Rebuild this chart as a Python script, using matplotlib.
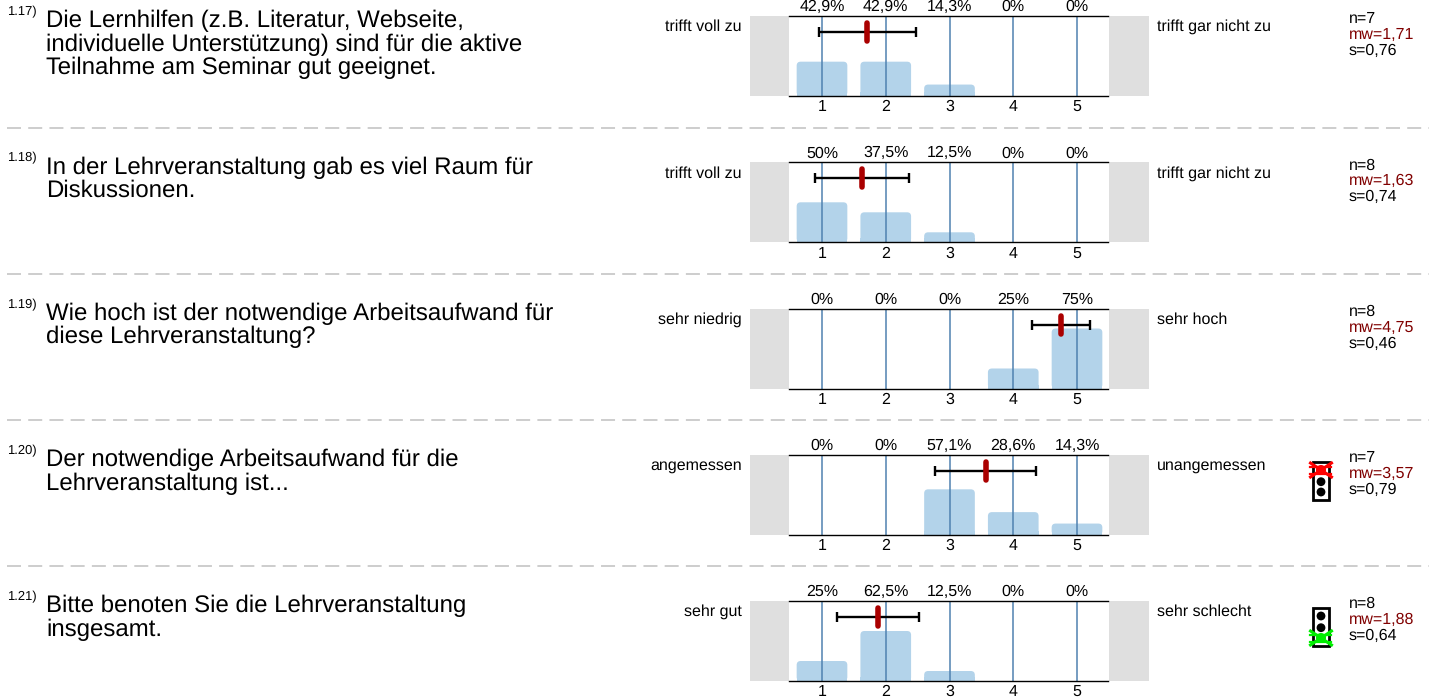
import matplotlib
matplotlib.use("Agg")
import matplotlib.pyplot as plt
from matplotlib.patches import FancyBboxPatch, Rectangle, Circle

plt.rcParams['font.family'] = ['Liberation Sans', 'DejaVu Sans']
plt.rcParams['text.hinting'] = 'no_hinting'
plt.rcParams['text.hinting_factor'] = 1

W, H = 1429, 697

numbers = ["1.17)", "1.18)", "1.19)", "1.20)", "1.21)"]
questions = [
    "Die Lernhilfen (z.B. Literatur, Webseite,\nindividuelle Unterstützung) sind für die aktive\nTeilnahme am Seminar gut geeignet.",
    "In der Lehrveranstaltung gab es viel Raum für\nDiskussionen.",
    "Wie hoch ist der notwendige Arbeitsaufwand für\ndiese Lehrveranstaltung?",
    "Der notwendige Arbeitsaufwand für die\nLehrveranstaltung ist...",
    "Bitte benoten Sie die Lehrveranstaltung\ninsgesamt.",
]
left_labels = ["trifft voll zu", "trifft voll zu", "sehr niedrig", "angemessen", "sehr gut"]
right_labels = ["trifft gar nicht zu", "trifft gar nicht zu", "sehr hoch", "unangemessen", "sehr schlecht"]
categories = [1, 2, 3, 4, 5]
pct_values = [
    [42.9, 42.9, 14.3, 0, 0],
    [50, 37.5, 12.5, 0, 0],
    [0, 0, 0, 25, 75],
    [0, 0, 57.1, 28.6, 14.3],
    [25, 62.5, 12.5, 0, 0],
]
pct_labels = [
    ["42,9%", "42,9%", "14,3%", "0%", "0%"],
    ["50%", "37,5%", "12,5%", "0%", "0%"],
    ["0%", "0%", "0%", "25%", "75%"],
    ["0%", "0%", "57,1%", "28,6%", "14,3%"],
    ["25%", "62,5%", "12,5%", "0%", "0%"],
]
n_values = [7, 8, 8, 7, 8]
means = [1.71, 1.63, 4.75, 3.57, 1.88]
sds = [0.76, 0.74, 0.46, 0.79, 0.64]
lights = [None, None, None, 0, 2]
light_colors = ["#ff0000", "#00ee00"]
mean_labels = ["1,71", "1,63", "4,75", "3,57", "1,88"]
sd_labels = ["0,76", "0,74", "0,46", "0,79", "0,64"]

tops = [16, 162.3, 308.5, 455, 601]
seps = [127.5, 273.5, 420, 566]

BLUE = "#b3d3ea"
LINE = "#4f81b0"
RED = "#aa0000"
GREY = "#dfdfdf"
FS = 11.2

fig = plt.figure(figsize=(W / 100, H / 100), dpi=100)
bg = fig.add_axes([0, 0, 1, 1])
bg.set_xlim(0, W)
bg.set_ylim(H, 0)
bg.axis("off")

for y in seps:
    bg.plot([7, W], [y, y], color="#c9c9c9", lw=1.3, dashes=(7.75, 4.0), solid_capstyle="butt")

UNIT = 63.75
X0 = 822 - UNIT * 1
XL, XR = 789, 1108

for i, top in enumerate(tops):
    bot = top + 80
    bg.add_patch(Rectangle((750, top), 39, 80, fc=GREY, ec="none"))
    bg.add_patch(Rectangle((1109, top), 40, 80, fc=GREY, ec="none"))

    ax = fig.add_axes([XL / W, 1 - bot / H, (XR - XL) / W, 80 / H])
    ax.set_xlim((XL - X0) / UNIT, (XR - X0) / UNIT)
    ax.set_ylim(0, 100)
    ax.patch.set_alpha(0)
    for s in ("left", "right"):
        ax.spines[s].set_visible(False)
    for s in ("top", "bottom"):
        ax.spines[s].set_linewidth(1.0)
        ax.spines[s].set_color("black")
    ax.set_yticks([])
    ax.set_xticks(categories)
    ax.set_xticklabels(categories, fontsize=FS)
    ax.tick_params(axis="x", length=0, pad=2.6)

    aspect = (100 / 80) / (1 / UNIT)
    rad = 4 / UNIT
    for c, v in zip(categories, pct_values[i]):
        if v <= 0:
            continue
        w = 0.795
        ry = rad * aspect
        ax.add_patch(FancyBboxPatch((c - w / 2 + rad, ry), w - 2 * rad, v - 2 * ry,
                                    boxstyle=f"round,pad={rad},rounding_size={rad}",
                                    mutation_aspect=aspect, fc=BLUE, ec="none", zorder=1))
        ax.add_patch(Rectangle((c - w / 2, 0), w, min(v, 5), fc=BLUE, ec="none", zorder=1))
    for c, lab in zip(categories, pct_labels[i]):
        ax.axvline(c, color=LINE, lw=1.1, zorder=2)
        ax.text(c, 102, lab, ha="center", va="bottom", fontsize=FS, clip_on=False)

    y_err = 80
    m, s = means[i], sds[i]
    ax.errorbar([m], [y_err], xerr=[s], color="black", lw=1.7, capsize=3.6, capthick=1.7, zorder=3, fmt="none")
    ax.plot([m, m], [y_err - 11.25, y_err + 11.25], color=RED, lw=4, solid_capstyle="round", zorder=4)

    bg.text(7, top - 4, numbers[i], fontsize=9.5, ha="left", va="center")
    bg.text(46, top - 6, questions[i], fontsize=17.1, ha="left", va="top", linespacing=1.05)
    bg.text(742, top + 11, left_labels[i], fontsize=FS, ha="right", va="center")
    bg.text(1157, top + 11, right_labels[i], fontsize=FS, ha="left", va="center")
    bg.text(1349, top + 3, f"n={n_values[i]}", fontsize=FS, ha="left", va="center")
    bg.text(1349, top + 19, f"mw={mean_labels[i]}", fontsize=FS, ha="left", va="center", color="#800000")
    bg.text(1349, top + 35, f"s={sd_labels[i]}", fontsize=FS, ha="left", va="center")

    if lights[i] is not None:
        lx = 1321
        ly0 = top + 7
        bg.add_patch(Rectangle((lx - 8, ly0), 16, 38, fc="white", ec="black", lw=2, zorder=3))
        cys = [ly0 + 8, ly0 + 19.7, ly0 + 30]
        for cy in cys:
            bg.add_patch(Circle((lx, cy), 4.4, fc="black", ec="none", zorder=4))
        cy = cys[lights[i]]
        col = light_colors[0] if lights[i] == 0 else light_colors[1]
        for dx, dy in [(-10.5, -7), (-10.5, 7)]:
            bg.plot([lx + dx, lx - dx], [cy + dy, cy - dy], color=col, lw=2.2, zorder=5)
        for dy in (-3.5, 3.5):
            bg.plot([lx - 10.5, lx + 10.5], [cy + dy, cy + dy], color=col, lw=1.6, zorder=5)
        bg.add_patch(Circle((lx, cy), 5, fc=col, ec="none", zorder=5))

fig.savefig("out.png", dpi=100)
